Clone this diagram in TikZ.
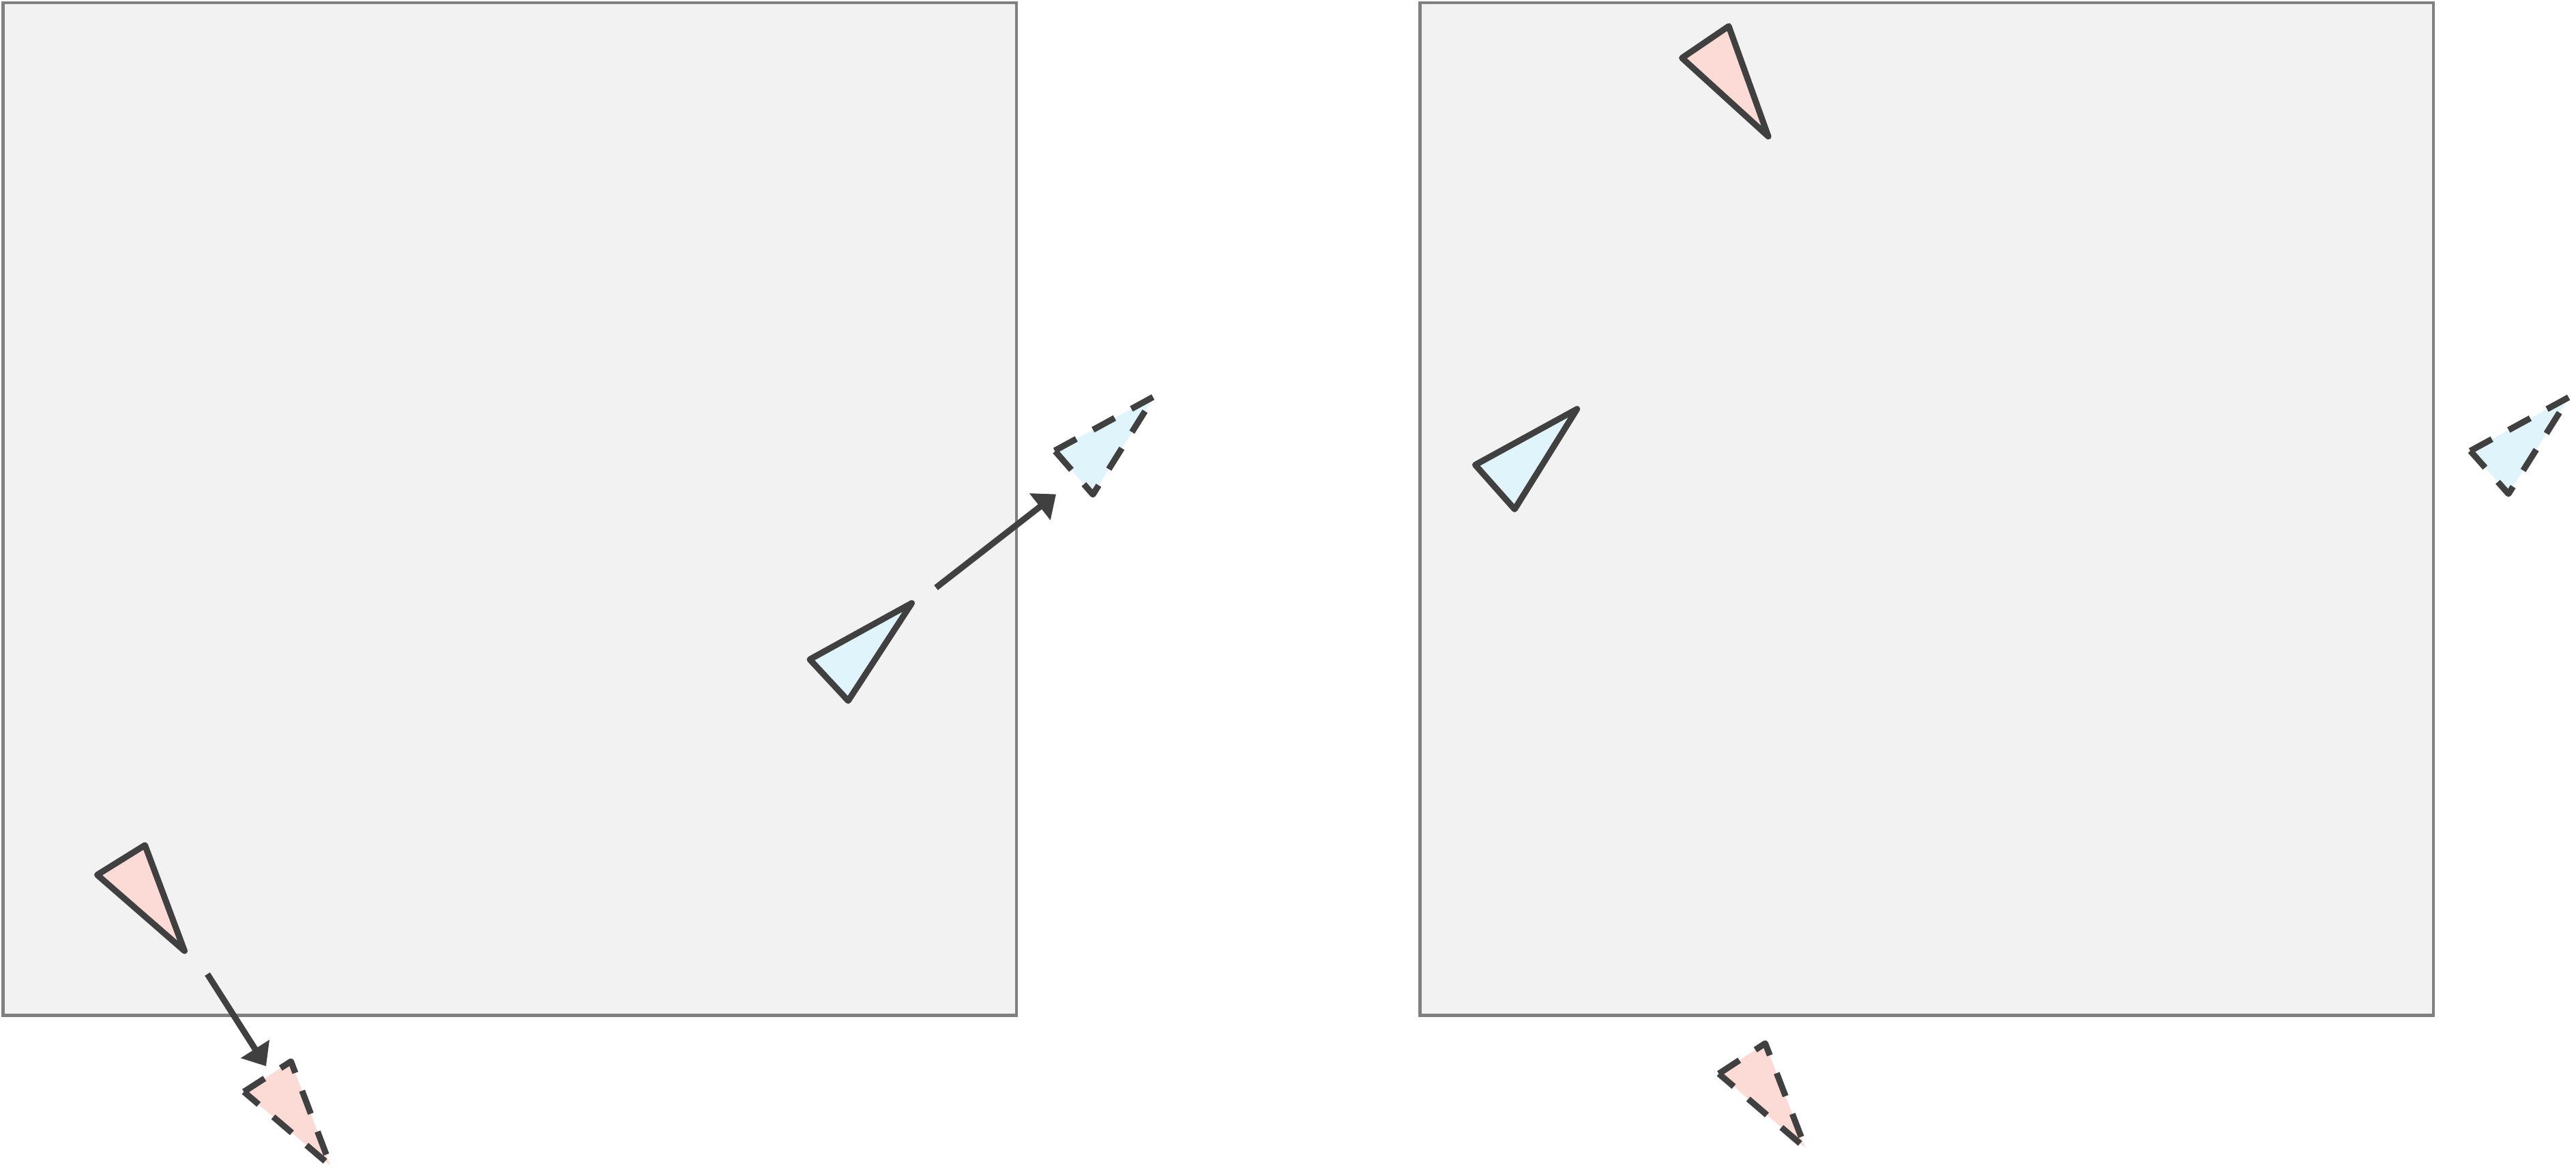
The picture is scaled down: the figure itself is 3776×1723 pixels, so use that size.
\documentclass[tikz,border=0pt]{standalone}
\usetikzlibrary{arrows.meta}
\definecolor{boxfill}{HTML}{F2F2F2}
\definecolor{boxline}{HTML}{808080}
\definecolor{ink}{HTML}{404040}
\definecolor{pinkfill}{HTML}{FCDAD5}
\definecolor{bluefill}{HTML}{DFF4FB}
\tikzset{
  frame/.style={fill=boxfill, draw=boxline, line width=0.045cm},
  solidtri/.style={draw=ink, line width=0.09cm, line join=round},
  ghosttri/.style={draw=ink, line width=0.09cm, line join=round, dash pattern=on 0.36cm off 0.28cm},
  moveto/.style={draw=ink, line width=0.09cm, -{Triangle[length=0.3cm,width=0.48cm]}},
}
\begin{document}
\begin{tikzpicture}[x=0.01cm,y=-0.01cm]
\useasboundingbox (0,0) rectangle (3776,1723);
% frames
\draw[frame] (4.5,4) rectangle (1490,1488.5);
\draw[frame] (2081.5,4) rectangle (3567,1488.5);
% left frame: solid triangles
\draw[solidtri, fill=pinkfill] (142.5,1282.5) -- (212.5,1239) -- (270.5,1394) -- cycle;
\draw[solidtri, fill=bluefill] (1187,966.7) -- (1336.5,884.2) -- (1243.3,1027.3) -- cycle;
% left frame: dashed (moved) triangles
\draw[ghosttri, fill=pinkfill] (357.5,1600.5) -- (426.5,1556) -- (484.5,1709) -- cycle;
\draw[ghosttri, fill=bluefill] (1546,660.7) -- (1692,581) -- (1602,725) -- cycle;
% arrows
\coordinate (pa) at (304,1428);
\coordinate (pb) at (390,1563);
\coordinate (ba) at (1372,861.5);
\coordinate (bb) at (1548,724.5);
\draw[moveto] (pa) -- (pb);
\draw[moveto] (ba) -- (bb);
% right frame: solid triangles
\draw[solidtri, fill=pinkfill] (2465.5,85) -- (2534,38.4) -- (2592,200) -- cycle;
\draw[solidtri, fill=bluefill] (2162.4,681.5) -- (2311.7,599.6) -- (2220.2,746.5) -- cycle;
% right frame: dashed triangles
\draw[ghosttri, fill=bluefill] (3621,661) -- (3766,582) -- (3677,724) -- cycle;
\draw[ghosttri, fill=pinkfill] (2519.5,1574) -- (2587.5,1529.5) -- (2646.5,1683) -- cycle;
\end{tikzpicture}
\end{document}
